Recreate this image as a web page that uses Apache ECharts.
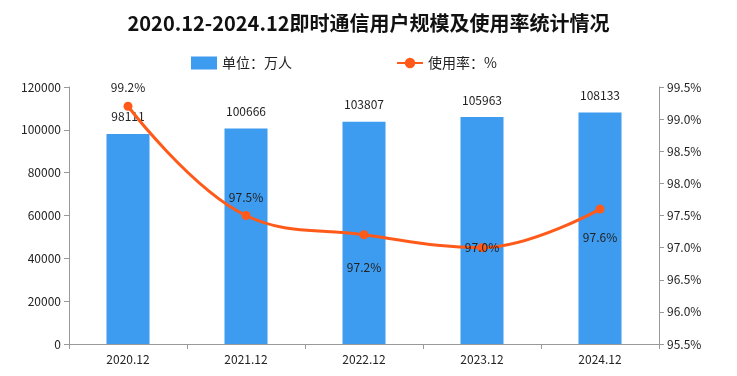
<!DOCTYPE html>
<html>
<head>
<meta charset="utf-8">
<script src="https://cdn.jsdelivr.net/npm/echarts@6/dist/echarts.min.js"></script>
<style>
  html, body { margin: 0; padding: 0; background: #fff; }
  #chart { width: 737px; height: 376px; }
</style>
</head>
<body>
<div id="chart"></div>
<script>
const categories = ['2020.12', '2021.12', '2022.12', '2023.12', '2024.12'];
const users = [98111, 100666, 103807, 105963, 108133];
const rates = [99.2, 97.5, 97.2, 97.0, 97.6];
// label placement for the rate series, as in the picture
const ratePos = ['top', 'top', 'bottom', 'inside', 'bottom'];
const rateDist = [8, 8, 22, 0, 18];

const font = '"Noto Sans CJK SC", "DejaVu Sans", sans-serif';
const chart = echarts.init(document.getElementById('chart'));

const option = {
  backgroundColor: '#fff',
  animation: false,
  title: {
    text: '2020.12-2024.12即时通信用户规模及使用率统计情况',
    left: 'center',
    top: 8,
    textStyle: { fontFamily: font, fontSize: 20, fontWeight: 'bold', color: '#111' }
  },
  legend: {
    top: 51,
    left: 186,
    itemGap: 104,
    itemWidth: 26,
    itemHeight: 13,
    textStyle: { fontFamily: font, fontSize: 14, color: '#222' },
    data: [
      { name: '单位：万人', icon: 'rect' },
      { name: '使用率：%' }
    ]
  },
  grid: { left: 69, right: 78, top: 87, bottom: 32 },
  xAxis: {
    type: 'category',
    data: categories,
    axisLine: { lineStyle: { color: '#999' } },
    axisTick: { show: true, length: 5, lineStyle: { color: '#999' } },
    axisLabel: { color: '#222', fontFamily: font, fontSize: 12, margin: 9 }
  },
  yAxis: [
    {
      type: 'value',
      min: 0, max: 120000, interval: 20000,
      splitLine: { show: false },
      axisLine: { show: true, lineStyle: { color: '#999' } },
      axisTick: { show: true, length: 5, lineStyle: { color: '#999' } },
      axisLabel: { color: '#222', fontFamily: font, fontSize: 12, margin: 8, formatter: v => String(v) }
    },
    {
      type: 'value',
      min: 95.5, max: 99.5, interval: 0.5,
      splitLine: { show: false },
      axisLine: { show: true, lineStyle: { color: '#999' } },
      axisTick: { show: true, length: 5, lineStyle: { color: '#999' } },
      axisLabel: {
        color: '#222', fontFamily: font, fontSize: 12, margin: 8,
        formatter: v => v.toFixed(1) + '%'
      }
    }
  ],
  series: [
    {
      name: '单位：万人',
      type: 'bar',
      data: users,
      barWidth: 43,
      itemStyle: { color: '#3D9BF0' },
      label: { show: true, position: 'top', distance: 11, color: '#222', fontFamily: font, fontSize: 12 }
    },
    {
      name: '使用率：%',
      type: 'line',
      yAxisIndex: 1,
      smooth: 0.4,
      data: rates.map((v, i) => ({
        value: v,
        label: { position: ratePos[i], distance: rateDist[i] }
      })),
      symbol: 'circle',
      symbolSize: 9,
      lineStyle: { color: '#FF5A1A', width: 3 },
      itemStyle: { color: '#FF5A1A' },
      label: {
        show: true, color: '#222', fontFamily: font, fontSize: 12,
        formatter: p => p.value.toFixed(1) + '%'
      },
      z: 3
    }
  ]
};

chart.setOption(option);
</script>
</body>
</html>
